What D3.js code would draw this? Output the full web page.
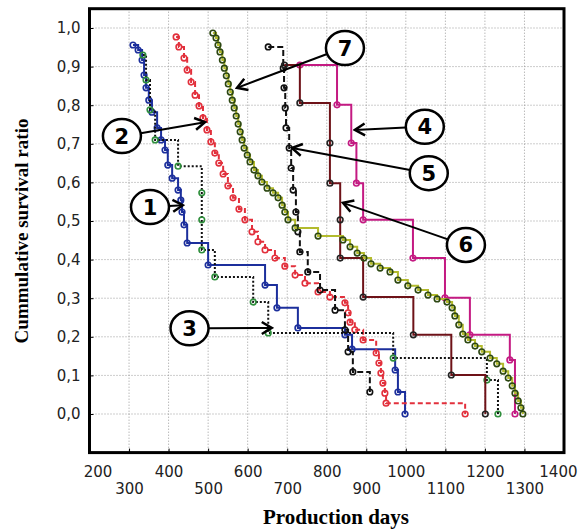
<!DOCTYPE html>
<html>
<head>
<meta charset="utf-8">
<script src="https://cdn.jsdelivr.net/npm/d3@7"></script>
<style>
  body { margin: 0; background: #fff; }
</style>
</head>
<body>
<div id="chart"></div>
<script>
// Survival curves (production days, cumulative survival)
var days1 = [310,323,333,338,343,350,358,371,381,391,398,409,424,431,434,439,447,500,644,674,727,846,864,973,980,998];
var surv1 = [0.956,0.943,0.917,0.878,0.845,0.813,0.782,0.741,0.710,0.684,0.645,0.611,0.580,0.554,0.523,0.490,0.443,0.386,0.334,0.275,0.223,0.205,0.168,0.114,0.057,0.0];

var days2 = [419,426,439,447,457,467,477,487,497,507,517,527,538,550,563,578,593,611,626,644,669,694,720,745,778,808,846,854,859,871,892,925,932,937,942,947,950,1150];
var surv2 = [0.977,0.951,0.922,0.891,0.860,0.826,0.798,0.767,0.736,0.705,0.676,0.650,0.622,0.591,0.560,0.531,0.503,0.472,0.446,0.425,0.404,0.383,0.360,0.339,0.316,0.303,0.288,0.262,0.238,0.218,0.192,0.158,0.132,0.106,0.080,0.054,0.028,0.0];

var days3 = [335,343,353,366,424,484,484,484,517,614,652,968,1205,1233];
var surv3 = [0.930,0.865,0.788,0.710,0.642,0.573,0.503,0.425,0.355,0.290,0.210,0.145,0.088,0.0];

var days4 = [732,826,862,875,892,1018,1099,1162,1263,1276];
var surv4 = [0.904,0.801,0.702,0.598,0.503,0.404,0.301,0.205,0.140,0.0];

var days5 = [652,690,692,695,697,705,710,715,722,727,732,752,783,821,846,854,866,909];
var surv5 = [0.951,0.896,0.845,0.793,0.741,0.689,0.637,0.580,0.523,0.472,0.420,0.368,0.321,0.269,0.218,0.161,0.109,0.057];

var days6 = [693,732,808,808,834,834,892,1019,1115,1201];
var surv6 = [0.904,0.806,0.702,0.598,0.503,0.404,0.303,0.205,0.101,0.0];

var days7 = [512,520,525,530,536,541,546,551,556,561,566,571,576,581,586,591,599,606,616,626,636,649,664,677,687,694,702,720,778,841,859,877,894,912,935,960,980,1005,1031,1056,1079,1104,1117,1124,1134,1144,1157,1175,1192,1213,1230,1246,1259,1269,1276,1284,1291,1296];
var surv7 = [0.987,0.974,0.956,0.938,0.917,0.896,0.876,0.855,0.834,0.813,0.793,0.772,0.751,0.731,0.710,0.689,0.671,0.653,0.632,0.617,0.601,0.585,0.573,0.560,0.541,0.523,0.503,0.482,0.461,0.451,0.433,0.417,0.404,0.389,0.378,0.368,0.347,0.332,0.321,0.308,0.298,0.290,0.275,0.254,0.231,0.207,0.192,0.176,0.161,0.145,0.130,0.111,0.093,0.073,0.054,0.034,0.016,0.0];

// Circled numbers and the point each arrow points at
var noteLabels = ["1","2","3","4","5","6","7"];
var noteDay = [353,282,453,1048,1058,1152,846];
var noteSurv = [0.536,0.720,0.222,0.744,0.624,0.438,0.948];
var tipDay = [436,492,661,871,712,841,573];
var tipSurv = [0.541,0.756,0.223,0.736,0.689,0.547,0.845];

// Axis ticks
var xTicks = [200,300,400,500,600,700,800,900,1000,1100,1200,1300,1400];
var yTicks = [0,0.1,0.2,0.3,0.4,0.5,0.6,0.7,0.8,0.9,1.0];

var width = 578, height = 529;
var plotLeft = 89.5, plotRight = 564, plotTop = 8.7, plotBottom = 452.6;

var svg = d3.select("#chart")
	.append("svg")
	.attr("width", width)
	.attr("height", height);

var x = d3.scaleLinear().domain([200, 1400]).range([plotLeft, plotRight]);
var y = d3.scaleLinear().domain([-0.1, 1.05]).range([plotBottom, plotTop]);

// dotted grid
var grid = svg.append("g");
grid.selectAll(".gx")
	.data(xTicks.slice(1, -1))
	.enter().append("line")
	.attr("x1", d => x(d)).attr("x2", d => x(d))
	.attr("y1", plotTop).attr("y2", plotBottom)
	.attr("stroke", "#9a9a9a")
	.attr("stroke-width", 1)
	.attr("stroke-dasharray", "1,2");
grid.selectAll(".gy")
	.data(yTicks)
	.enter().append("line")
	.attr("x1", plotLeft).attr("x2", plotRight)
	.attr("y1", d => y(d)).attr("y2", d => y(d))
	.attr("stroke", "#9a9a9a")
	.attr("stroke-width", 1)
	.attr("stroke-dasharray", "1,2");

// axes: labels only, ticks drawn inward
var fmt = d => d3.format(".1f")(d).replace(".", ",");
var yAxis = svg.append("g")
	.attr("transform", "translate(" + plotLeft + ",0)")
	.call(d3.axisLeft(y).tickValues(yTicks).tickFormat(fmt).tickSize(-4).tickPadding(9));
yAxis.select(".domain").remove();
yAxis.selectAll("text")
	.attr("font-family", "DejaVu Sans")
	.attr("font-size", 15)
	.attr("fill", "#222");

var xAxis = svg.append("g")
	.attr("transform", "translate(0," + plotBottom + ")")
	.call(d3.axisBottom(x).tickValues(xTicks).tickFormat(d3.format("d")).tickSize(-4));
xAxis.select(".domain").remove();
xAxis.selectAll("text")
	.attr("font-family", "DejaVu Sans")
	.attr("font-size", 15)
	.attr("fill", "#222")
	.attr("dy", null)
	.attr("y", (d, i) => i % 2 == 0 ? 24 : 41);
// first label sits a little right of its tick, last one is pushed in from the edge
xAxis.selectAll("text").filter(d => d == 200).attr("x", 8);
xAxis.selectAll("text").filter(d => d == 1400).attr("text-anchor", "end").attr("x", 13);

// curves
var series = [
	{days: days1, surv: surv1, color: "#1c2f9c", mark: "#1c2f9c", dash: null},
	{days: days2, surv: surv2, color: "#e2303c", mark: "#e2303c", dash: "5,3"},
	{days: days3, surv: surv3, color: "#111", mark: "#2f8f3c", dash: "2,2"},
	{days: days4, surv: surv4, color: "#c41a82", mark: "#c41a82", dash: null},
	{days: days5, surv: surv5, color: "#111", mark: "#111", dash: "6,3"},
	{days: days6, surv: surv6, color: "#6e1218", mark: "#222", dash: null},
	{days: days7, surv: surv7, color: "#b3bb2e", mark: "#2c4712", dash: null}
];

var line = d3.line()
	.x(d => x(d[0]))
	.y(d => y(d[1]))
	.curve(d3.curveStepAfter);

series.forEach(function(s){
	var pts = s.days.map((d, i) => [d, s.surv[i]]);
	var g = svg.append("g");
	g.append("path")
		.datum(pts)
		.attr("d", line)
		.attr("fill", "none")
		.attr("stroke", s.color)
		.attr("stroke-width", 2)
		.attr("stroke-dasharray", s.dash);
	g.selectAll("circle")
		.data(pts)
		.enter().append("circle")
		.attr("cx", d => x(d[0]))
		.attr("cy", d => y(d[1]))
		.attr("r", 2.8)
		.attr("fill", "none")
		.attr("stroke", s.mark)
		.attr("stroke-width", 1.6);
});

// frame
svg.append("rect")
	.attr("x", plotLeft).attr("y", plotTop)
	.attr("width", plotRight - plotLeft).attr("height", plotBottom - plotTop)
	.attr("fill", "none")
	.attr("stroke", "#000")
	.attr("stroke-width", 3);

// annotations
svg.append("defs").append("marker")
	.attr("id", "head")
	.attr("viewBox", "-12 -8 14 16")
	.attr("markerWidth", 14).attr("markerHeight", 16)
	.attr("markerUnits", "userSpaceOnUse")
	.attr("orient", "auto")
	.append("path")
	.attr("d", "M-10,-6L0,0L-10,6")
	.attr("fill", "none")
	.attr("stroke", "#000")
	.attr("stroke-width", 2.5);

var rx = 19, ry = 17;
noteLabels.forEach(function(lab, i){
	var cx = x(noteDay[i]), cy = y(noteSurv[i]);
	var tx = x(tipDay[i]), ty = y(tipSurv[i]);
	var a = Math.atan2(ty - cy, tx - cx);
	svg.append("line")
		.attr("x1", cx + rx * Math.cos(a)).attr("y1", cy + ry * Math.sin(a))
		.attr("x2", tx).attr("y2", ty)
		.attr("stroke", "#000")
		.attr("stroke-width", 2)
		.attr("marker-end", "url(#head)");
	svg.append("ellipse")
		.attr("cx", cx).attr("cy", cy)
		.attr("rx", rx).attr("ry", ry)
		.attr("fill", "#fff")
		.attr("stroke", "#000")
		.attr("stroke-width", 2.5);
	svg.append("text")
		.attr("x", cx).attr("y", cy)
		.attr("dy", "0.36em")
		.attr("text-anchor", "middle")
		.attr("font-family", "DejaVu Sans")
		.attr("font-weight", "bold")
		.attr("font-size", 21)
		.text(lab);
});

// axis titles
svg.append("text")
	.attr("x", 336).attr("y", 524)
	.attr("text-anchor", "middle")
	.attr("font-family", "Liberation Serif")
	.attr("font-weight", "bold")
	.attr("font-size", 21)
	.text("Production days");

svg.append("text")
	.attr("transform", "translate(28,231) rotate(-90)")
	.attr("text-anchor", "middle")
	.attr("font-family", "Liberation Serif")
	.attr("font-weight", "bold")
	.attr("font-size", 19)
	.text("Cummulative survival ratio");
</script>
</body>
</html>
